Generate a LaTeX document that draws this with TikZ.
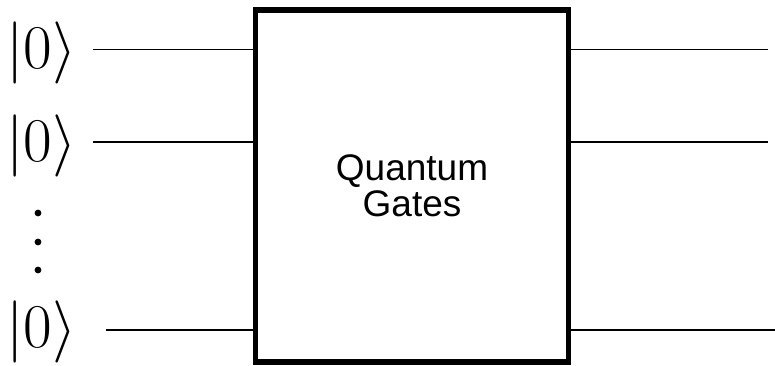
\documentclass[tikz,border=0pt]{standalone}
\usepackage{fontspec}
\newfontfamily\gatefont{Liberation Sans}
\newcommand{\ketzero}{\scalebox{3}{$|0\rangle$}}
\begin{document}
\begin{tikzpicture}[x=1pt,y=-1pt,
  wire/.style={line width=1.6pt},
  gatebox/.style={draw, line width=5.3pt, inner sep=0pt,
    minimum width=313.4pt, minimum height=352pt, align=center,
    font=\gatefont\fontsize{37}{36}\selectfont},
  ket/.style={inner sep=0pt, font=\fontsize{20}{24}\selectfont},
  dot/.style={circle, fill, inner sep=0pt, minimum size=6.8pt}]
  \useasboundingbox (0,0) rectangle (775,365);

  % the gate block
  \node[gatebox] (box) at (412,186) {Quantum\\Gates};

  % input states
  \node[ket] (k1) at (41.5,53) {\ketzero};
  \node[ket] (k2) at (41.5,146) {\ketzero};
  \node[ket] (k3) at (41.5,332) {\ketzero};

  % vertical ellipsis between the qubits
  \node[dot] (d1) at (38,213) {};
  \node[dot] (d2) at (38,242) {};
  \node[dot] (d3) at (38,270) {};

  % wire end points
  \coordinate (in1) at (93,49.3);
  \coordinate (in2) at (93,141.7);
  \coordinate (in3) at (105.7,330);
  \coordinate (out1) at (768,49.3);
  \coordinate (out2) at (768,141.7);
  \coordinate (out3) at (775,330);

  % wires into and out of the block
  \draw[wire] (in1) -- (in1 -| box.west);
  \draw[wire] (in2) -- (in2 -| box.west);
  \draw[wire] (in3) -- (in3 -| box.west);
  \draw[wire] (out1 -| box.east) -- (out1);
  \draw[wire] (out2 -| box.east) -- (out2);
  \draw[wire] (out3 -| box.east) -- (out3);
\end{tikzpicture}
\end{document}
